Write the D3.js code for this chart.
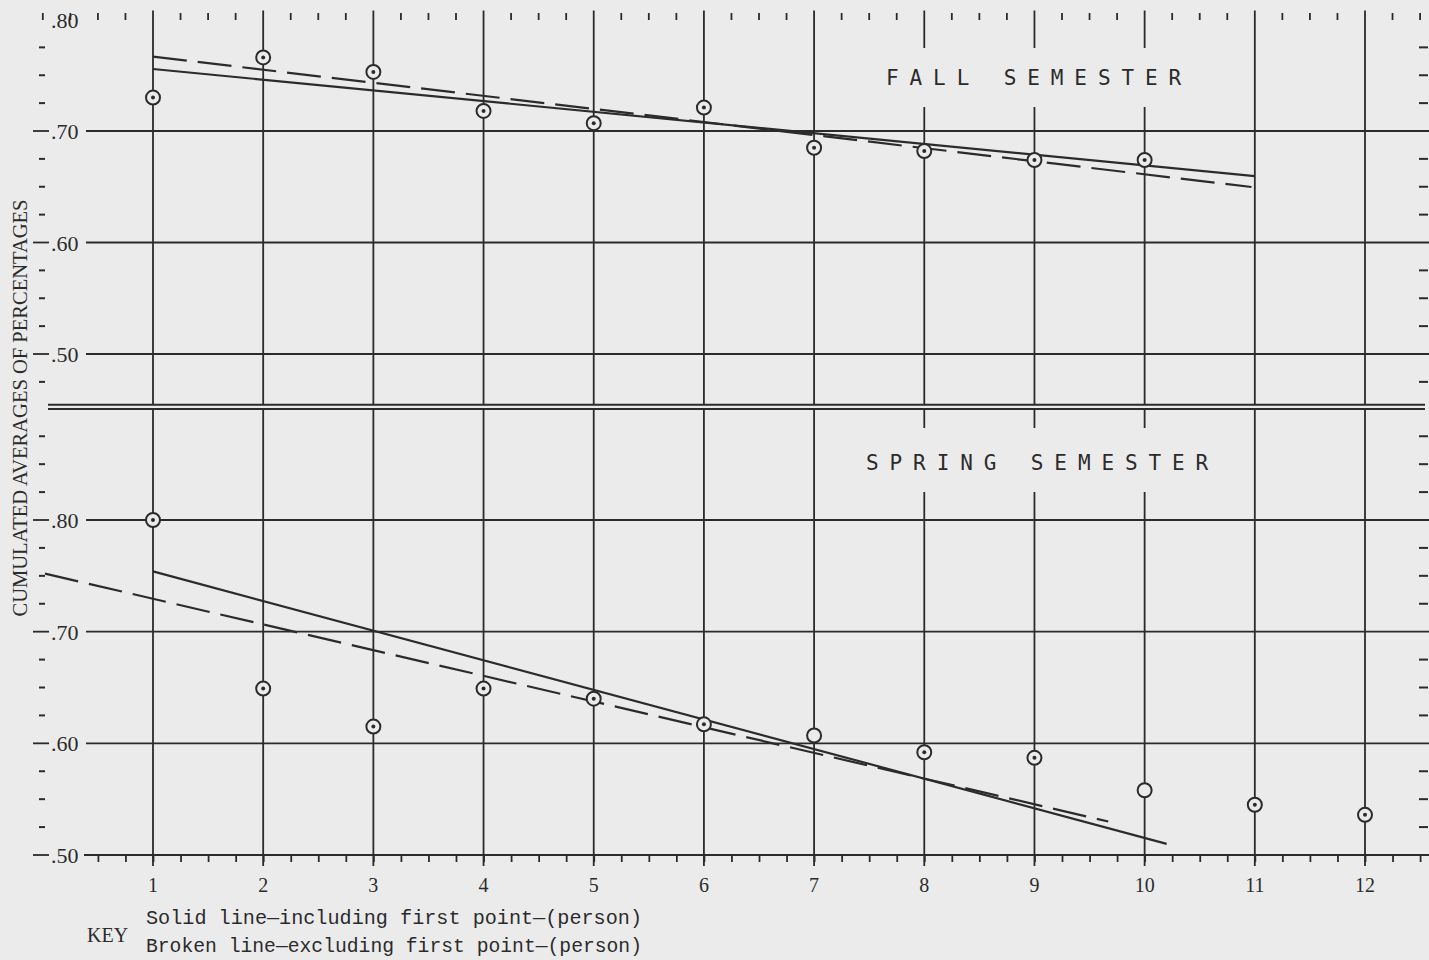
<!DOCTYPE html>
<html>
<head>
<meta charset="utf-8">
<script src="https://cdn.jsdelivr.net/npm/d3@7"></script>
<style>
  html, body { margin: 0; padding: 0; background: #ebebeb; }
  svg { display: block; }
</style>
</head>
<body>
<div id="chart"></div>
<script>
var width = 1429,
  height = 960;

// values
var sessions = [1, 2, 3, 4, 5, 6, 7, 8, 9, 10, 11, 12];
var fallValues = [0.730, 0.766, 0.753, 0.718, 0.707, 0.721, 0.685, 0.682, 0.674, 0.674];
var springValues = [0.800, 0.649, 0.615, 0.649, 0.640, 0.617, 0.607, 0.592, 0.587, 0.558, 0.545, 0.536];
var springOpenPoints = [7, 10];   // plotted without the centre dot

// fitted lines, end points [session, value]
var fallSolid = [[1, 0.7556], [11, 0.6596]];
var fallBroken = [[1, 0.7667], [10.97, 0.6498]];
var springSolid = [[1, 0.754], [10.2, 0.510]];
var springBroken = [[0.02, 0.752], [9.67, 0.530]];

var yMajor = [0.5, 0.6, 0.7, 0.8];
var yMajorLabels = [".50", ".60", ".70", ".80"];
var xLabels = ["1", "2", "3", "4", "5", "6", "7", "8", "9", "10", "11", "12"];

var ink = "#2b2b2b";
var paper = "#ebebeb";

var svg = d3.select("#chart").append("svg")
  .attr("width", width)
  .attr("height", height);

var x = d3.scaleLinear().domain([1, 12]).range([153, 1365]);
var yTop = d3.scaleLinear().domain([0.5, 0.8]).range([354, 19.5]);
var yBot = d3.scaleLinear().domain([0.5, 0.8]).range([855, 520]);

var quarters = d3.range(0, 12.75, 0.25).filter(function(d) { return x(d) > 38 && x(d) < 1429; });
var minorQuarters = quarters.filter(function(d) { return d % 1 !== 0 || d === 0; });

var line = d3.line()
  .x(function(d) { return x(d[0]); });

// ---------- grid: vertical lines ----------
var g = svg.append("g");

g.selectAll(".vtop")
  .data(sessions)
  .enter().append("line")
  .attr("x1", function(d) { return x(d); })
  .attr("x2", function(d) { return x(d); })
  .attr("y1", yTop(0.808))
  .attr("y2", yTop(0.4545))
  .attr("stroke", ink)
  .attr("stroke-width", 1.8);

g.selectAll(".vbot")
  .data(sessions)
  .enter().append("line")
  .attr("x1", function(d) { return x(d); })
  .attr("x2", function(d) { return x(d); })
  .attr("y1", yBot(0.8995))
  .attr("y2", yBot(0.5) + 11)
  .attr("stroke", ink)
  .attr("stroke-width", 1.8);

// small ticks along the top edge
g.selectAll(".toptick")
  .data(minorQuarters)
  .enter().append("line")
  .attr("x1", function(d) { return x(d); })
  .attr("x2", function(d) { return x(d); })
  .attr("y1", 13)
  .attr("y2", 20)
  .attr("stroke", ink)
  .attr("stroke-width", 1.8);

// ---------- grid: horizontal lines ----------
[0.5, 0.6, 0.7].forEach(function(v) {
  g.append("line")
    .attr("x1", 86).attr("x2", width)
    .attr("y1", yTop(v)).attr("y2", yTop(v))
    .attr("stroke", ink).attr("stroke-width", 1.8);
});
[0.6, 0.7, 0.8].forEach(function(v) {
  g.append("line")
    .attr("x1", 86).attr("x2", width)
    .attr("y1", yBot(v)).attr("y2", yBot(v))
    .attr("stroke", ink).attr("stroke-width", 1.8);
});

// double rule between the two semesters
[yTop(0.4545), yBot(0.8995)].forEach(function(yy) {
  g.append("line")
    .attr("x1", 48).attr("x2", 1425)
    .attr("y1", yy).attr("y2", yy)
    .attr("stroke", ink).attr("stroke-width", 2);
});

// ---------- y axes (both panels) ----------
function yAxisMarks(y, minor, dashed) {
  g.selectAll(null)
    .data(minor)
    .enter().append("line")
    .attr("x1", 39).attr("x2", 45)
    .attr("y1", function(d) { return y(d); })
    .attr("y2", function(d) { return y(d); })
    .attr("stroke", ink).attr("stroke-width", 2);
  g.selectAll(null)
    .data(minor)
    .enter().append("line")
    .attr("x1", 1419).attr("x2", 1428)
    .attr("y1", function(d) { return y(d); })
    .attr("y2", function(d) { return y(d); })
    .attr("stroke", ink).attr("stroke-width", 2);
  g.selectAll(null)
    .data(dashed)
    .enter().append("line")
    .attr("x1", 33).attr("x2", 49)
    .attr("y1", function(d) { return y(d); })
    .attr("y2", function(d) { return y(d); })
    .attr("stroke", ink).attr("stroke-width", 1.8);
  g.selectAll(null)
    .data(yMajor)
    .enter().append("text")
    .attr("x", 51)
    .attr("y", function(d) { return y(d) + 8; })
    .attr("font-family", "Liberation Serif, serif")
    .attr("font-size", 22)
    .attr("fill", ink)
    .text(function(d, i) { return yMajorLabels[i]; });
}

yAxisMarks(yTop, [0.475, 0.525, 0.55, 0.575, 0.625, 0.65, 0.675, 0.725, 0.75, 0.775], [0.5, 0.6, 0.7]);
yAxisMarks(yBot, [0.525, 0.55, 0.575, 0.625, 0.65, 0.675, 0.725, 0.75, 0.775, 0.825, 0.85, 0.875], [0.5, 0.6, 0.7, 0.8]);

// ---------- x axis at the bottom ----------
var xAxis = d3.axisBottom(x)
  .tickValues(quarters.filter(function(d) { return d >= 0.5; }))
  .tickSize(7)
  .tickFormat("");

var ax = svg.append("g")
  .attr("transform", "translate(0," + yBot(0.5) + ")")
  .call(xAxis);
ax.select(".domain").remove();
ax.selectAll("line").attr("stroke", ink).attr("stroke-width", 1.8);
ax.append("line")
  .attr("x1", 84).attr("x2", width)
  .attr("stroke", ink).attr("stroke-width", 2);

svg.selectAll(".xlabel")
  .data(sessions)
  .enter().append("text")
  .attr("x", function(d) { return x(d); })
  .attr("y", 892)
  .attr("text-anchor", "middle")
  .attr("font-family", "Liberation Serif, serif")
  .attr("font-size", 20)
  .attr("fill", ink)
  .text(function(d, i) { return xLabels[i]; });

// ---------- panel titles (clear the grid behind them) ----------
var titles = [
  {text: "FALL SEMESTER", x: 886, y: 85, box: [878, 48, 308, 59]},
  {text: "SPRING SEMESTER", x: 866, y: 470, box: [858, 428, 358, 64]}
];
titles.forEach(function(t) {
  svg.append("rect")
    .attr("x", t.box[0]).attr("y", t.box[1])
    .attr("width", t.box[2]).attr("height", t.box[3])
    .attr("fill", paper);
  svg.append("text")
    .attr("x", t.x)
    .attr("y", t.y)
    .attr("font-family", "DejaVu Sans Mono, monospace")
    .attr("font-size", 21)
    .attr("letter-spacing", 10.9)
    .attr("fill", ink)
    .text(t.text);
});

// ---------- fitted lines ----------
function fit(pts, y, dashed) {
  svg.append("path")
    .datum(pts)
    .attr("d", line.y(function(d) { return y(d[1]); }))
    .attr("fill", "none")
    .attr("stroke", ink)
    .attr("stroke-width", 2.2)
    .attr("stroke-dasharray", dashed ? "34,11" : null);
}
fit(fallSolid, yTop, false);
fit(fallBroken, yTop, true);
fit(springSolid, yBot, false);
fit(springBroken, yBot, true);

// ---------- data points ----------
function points(values, y, open) {
  var pg = svg.append("g");
  var p = pg.selectAll("g")
    .data(values)
    .enter().append("g")
    .attr("transform", function(d, i) {
      return "translate(" + x(sessions[i]) + "," + y(d) + ")";
    });
  p.append("circle")
    .attr("r", 7)
    .attr("fill", paper)
    .attr("stroke", ink)
    .attr("stroke-width", 2);
  p.filter(function(d, i) { return open.indexOf(sessions[i]) < 0; })
    .append("circle")
    .attr("r", 2)
    .attr("fill", ink);
}
points(fallValues, yTop, []);
points(springValues, yBot, springOpenPoints);

// ---------- axis title ----------
svg.append("text")
  .attr("transform", "translate(27,408) rotate(-90)")
  .attr("text-anchor", "middle")
  .attr("font-family", "Liberation Serif, serif")
  .attr("font-size", 20)
  .attr("textLength", 417)
  .attr("lengthAdjust", "spacingAndGlyphs")
  .attr("fill", ink)
  .text("CUMULATED AVERAGES OF PERCENTAGES");

// ---------- key ----------
svg.append("text")
  .attr("x", 87).attr("y", 942)
  .attr("font-family", "Liberation Serif, serif")
  .attr("font-size", 20)
  .attr("fill", ink)
  .text("KEY");

var keyLines = [
  {text: "Solid line\u2014including first point\u2014(person)", y: 924, len: 496},
  {text: "Broken line\u2014excluding first point\u2014(person)", y: 952, len: 496}
];
keyLines.forEach(function(k) {
  svg.append("text")
    .attr("x", 146).attr("y", k.y)
    .attr("font-family", "Liberation Mono, monospace")
    .attr("font-size", 20)
    .attr("textLength", k.len)
    .attr("lengthAdjust", "spacingAndGlyphs")
    .attr("fill", ink)
    .text(k.text);
});
</script>
</body>
</html>
